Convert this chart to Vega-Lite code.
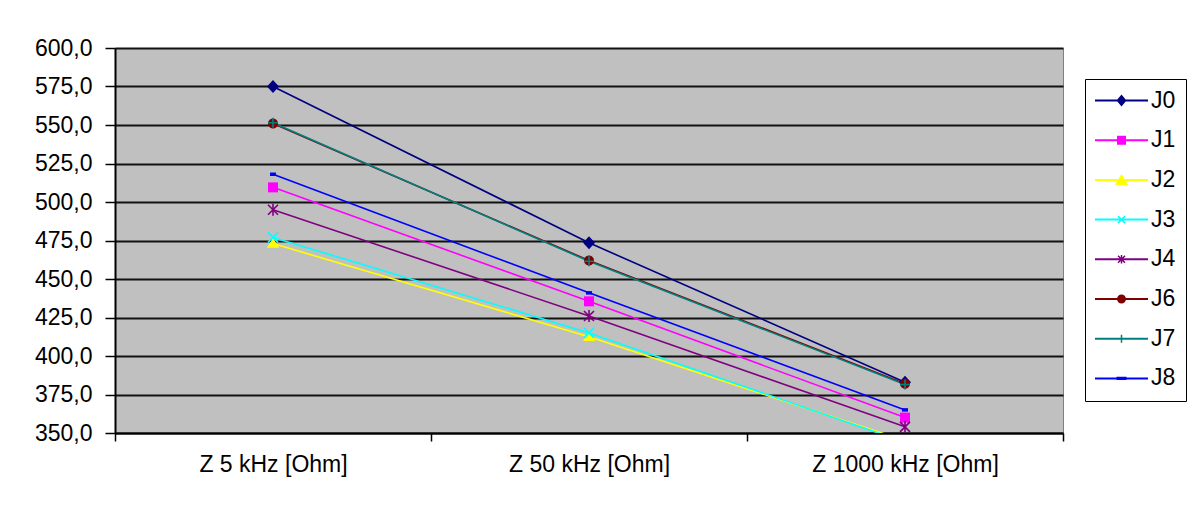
{
  "$schema": "https://vega.github.io/schema/vega-lite/v6.json",
  "width": 948,
  "height": 385,
  "autosize": "none",
  "padding": {"left": 115, "top": 48, "right": 129, "bottom": 73},
  "background": "white",
  "config": {
    "font": "Liberation Sans",
    "view": {"fill": "#C0C0C0", "stroke": "#808080", "strokeWidth": 1}
  },
  "data": {
    "values": [
      {"series": "J0", "freq": "Z 5 kHz [Ohm]", "value": 575},
      {"series": "J0", "freq": "Z 50 kHz [Ohm]", "value": 473.5},
      {"series": "J0", "freq": "Z 1000 kHz [Ohm]", "value": 383},
      {"series": "J1", "freq": "Z 5 kHz [Ohm]", "value": 509.5},
      {"series": "J1", "freq": "Z 50 kHz [Ohm]", "value": 435.5},
      {"series": "J1", "freq": "Z 1000 kHz [Ohm]", "value": 360},
      {"series": "J2", "freq": "Z 5 kHz [Ohm]", "value": 473},
      {"series": "J2", "freq": "Z 50 kHz [Ohm]", "value": 412.5},
      {"series": "J2", "freq": "Z 1000 kHz [Ohm]", "value": 345},
      {"series": "J3", "freq": "Z 5 kHz [Ohm]", "value": 477},
      {"series": "J3", "freq": "Z 50 kHz [Ohm]", "value": 415},
      {"series": "J3", "freq": "Z 1000 kHz [Ohm]", "value": 344},
      {"series": "J4", "freq": "Z 5 kHz [Ohm]", "value": 495},
      {"series": "J4", "freq": "Z 50 kHz [Ohm]", "value": 426},
      {"series": "J4", "freq": "Z 1000 kHz [Ohm]", "value": 354},
      {"series": "J6", "freq": "Z 5 kHz [Ohm]", "value": 551},
      {"series": "J6", "freq": "Z 50 kHz [Ohm]", "value": 462},
      {"series": "J6", "freq": "Z 1000 kHz [Ohm]", "value": 382},
      {"series": "J7", "freq": "Z 5 kHz [Ohm]", "value": 551.5},
      {"series": "J7", "freq": "Z 50 kHz [Ohm]", "value": 461.5},
      {"series": "J7", "freq": "Z 1000 kHz [Ohm]", "value": 381.5},
      {"series": "J8", "freq": "Z 5 kHz [Ohm]", "value": 518},
      {"series": "J8", "freq": "Z 50 kHz [Ohm]", "value": 441},
      {"series": "J8", "freq": "Z 1000 kHz [Ohm]", "value": 365}
    ]
  },
  "encoding": {
    "x": {
      "field": "freq",
      "type": "nominal",
      "sort": ["Z 5 kHz [Ohm]", "Z 50 kHz [Ohm]", "Z 1000 kHz [Ohm]"],
      "scale": {"type": "band", "paddingInner": 0, "paddingOuter": 0},
      "axis": {
        "title": null,
        "labelAngle": 0,
        "labelLimit": 0,
        "tickBand": "extent",
        "ticks": true,
        "tickSize": 8,
        "tickWidth": 1.5,
        "tickColor": "black",
        "domainColor": "black",
        "domainWidth": 2,
        "grid": false,
        "labelFontSize": 23,
        "labelColor": "black",
        "labelPadding": 12
      }
    },
    "y": {
      "field": "value",
      "type": "quantitative",
      "scale": {"domain": [350, 600], "nice": false, "zero": false},
      "axis": {
        "title": null,
        "values": [350, 375, 400, 425, 450, 475, 500, 525, 550, 575, 600],
        "labelExpr": "replace(format(datum.value, '.1f'), '.', ',')",
        "grid": true,
        "gridColor": "#111111",
        "gridWidth": 2,
        "gridOpacity": 1,
        "domainColor": "black",
        "domainWidth": 2,
        "tickSize": 10,
        "tickWidth": 1.5,
        "tickColor": "black",
        "labelFontSize": 23,
        "labelColor": "black",
        "labelPadding": 13
      }
    }
  },
  "layer": [
    {
      "mark": {"type": "line", "clip": true, "strokeWidth": 1.6},
      "encoding": {
        "color": {
          "field": "series",
          "type": "nominal",
          "scale": {
            "domain": ["J0", "J1", "J2", "J3", "J4", "J6", "J7", "J8"],
            "range": ["#000080", "#FF00FF", "#FFFF00", "#00FFFF", "#800080", "#800000", "#008080", "#0000FF"]
          },
          "legend": null
        }
      }
    },
    {
      "mark": {"type": "point", "filled": true, "opacity": 1, "strokeWidth": 0, "size": 100, "clip": true},
      "encoding": {
        "color": {
          "field": "series",
          "type": "nominal",
          "scale": {
            "domain": ["J0", "J1", "J2", "J3", "J4", "J6", "J7", "J8"],
            "range": ["#000080", "#FF00FF", "#FFFF00", "#00FFFF", "#800080", "#800000", "#008080", "#0000FF"]
          },
          "legend": null
        },
        "shape": {
          "field": "series",
          "type": "nominal",
          "scale": {
            "domain": ["J0", "J1", "J2", "J3", "J4", "J6", "J7", "J8"],
            "range": [
              "M0,-1.3L1.2,0L0,1.3L-1.2,0Z",
              "M-1,-1H1V1H-1Z",
              "M0,-1.05L1.25,0.85H-1.25Z",
              "M-1.113,-0.887L-0.887,-1.113L1.113,0.887L0.887,1.113ZM-1.113,0.887L0.887,-1.113L1.113,-0.887L-0.887,1.113Z",
              "M-1.113,-0.887L-0.887,-1.113L1.113,0.887L0.887,1.113ZM-1.113,0.887L0.887,-1.113L1.113,-0.887L-0.887,1.113ZM-0.16,-1.2H0.16V1.2H-0.16Z",
              "M1,0A1,1 0 1,1 -1,0A1,1 0 1,1 1,0Z",
              "M-1,-0.16H1V0.16H-1ZM-0.16,-1H0.16V1H-0.16Z",
              "M-0.6,-0.35H0.6V0.35H-0.6Z"
            ]
          },
          "legend": null
        }
      }
    },
    {
      "transform": [{"filter": "false"}],
      "mark": {"type": "point", "filled": true, "opacity": 1, "strokeWidth": 0},
      "encoding": {
        "color": {
          "field": "series",
          "type": "nominal",
          "scale": {
            "domain": ["J0", "J1", "J2", "J3", "J4", "J6", "J7", "J8"],
            "range": ["#000080", "#FF00FF", "#FFFF00", "#00FFFF", "#800080", "#800000", "#008080", "#0000FF"]
          },
          "legend": {
            "title": null,
            "orient": "none",
            "legendX": 970,
            "legendY": 31,
            "padding": 10,
            "strokeColor": "black",
            "fillColor": "white",
            "labelFontSize": 23,
            "labelColor": "black",
            "symbolSize": 400,
            "symbolStrokeWidth": 0,
            "symbolOffset": 15,
            "labelOffset": 18,
            "rowPadding": 15.7
          }
        },
        "shape": {
          "field": "series",
          "type": "nominal",
          "scale": {
            "domain": ["J0", "J1", "J2", "J3", "J4", "J6", "J7", "J8"],
            "range": [
              "M-2.65,-0.1H2.65V0.1H-2.65ZM0,-0.6L0.5,0L0,0.6L-0.5,0Z",
              "M-2.65,-0.1H2.65V0.1H-2.65ZM-0.45,-0.45H0.45V0.45H-0.45Z",
              "M-2.65,-0.1H2.65V0.1H-2.65ZM0,-0.6L0.65,0.5H-0.65Z",
              "M-2.65,-0.1H2.65V0.1H-2.65ZM-0.403,-0.297L-0.297,-0.403L0.403,0.297L0.297,0.403ZM-0.403,0.297L0.297,-0.403L0.403,-0.297L-0.297,0.403Z",
              "M-2.65,-0.1H2.65V0.1H-2.65ZM-0.403,-0.297L-0.297,-0.403L0.403,0.297L0.297,0.403ZM-0.403,0.297L0.297,-0.403L0.403,-0.297L-0.297,0.403ZM-0.075,-0.42H0.075V0.42H-0.075Z",
              "M-2.65,-0.1H2.65V0.1H-2.65ZM0.45,0A0.45,0.45 0 1,1 -0.45,0A0.45,0.45 0 1,1 0.45,0Z",
              "M-2.65,-0.1H2.65V0.1H-2.65ZM-0.075,-0.4H0.075V0.4H-0.075Z",
              "M-2.65,-0.1H2.65V0.1H-2.65ZM-0.5,-0.17H0.5V0.17H-0.5Z"
            ]
          },
          "legend": {
            "title": null,
            "orient": "none",
            "legendX": 970,
            "legendY": 31,
            "padding": 10,
            "strokeColor": "black",
            "fillColor": "white",
            "labelFontSize": 23,
            "labelColor": "black",
            "symbolSize": 400,
            "symbolStrokeWidth": 0,
            "symbolOffset": 15,
            "labelOffset": 18,
            "rowPadding": 15.7
          }
        }
      }
    }
  ],
  "resolve": {"scale": {"color": "independent", "shape": "independent"}}
}
